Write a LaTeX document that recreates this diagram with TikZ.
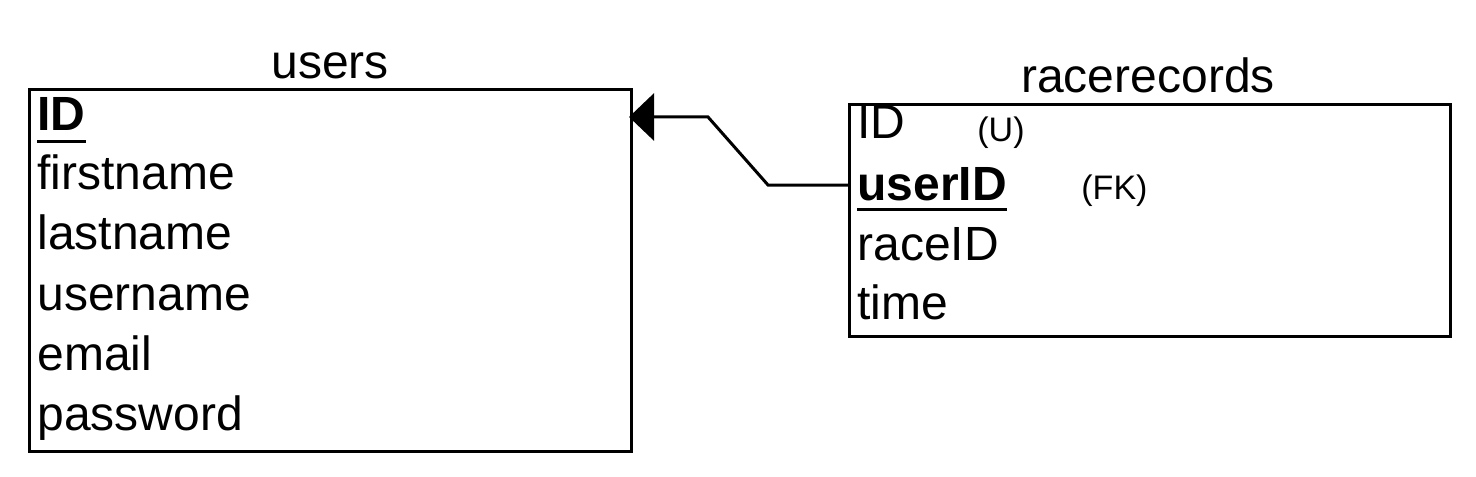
\documentclass[tikz,border=0pt]{standalone}
\usepackage{fontspec}
\setmainfont{Liberation Sans}
\usetikzlibrary{arrows.meta}
\begin{document}
\begin{tikzpicture}[x=0.5pt,y=-0.5pt,
  tbl/.style={draw,line width=1.5pt},
  fld/.style={anchor=base west,inner sep=0pt,font=\fontsize{24}{28}\selectfont},
  ttl/.style={anchor=base,inner sep=0pt,font=\fontsize{24}{28}\selectfont},
  tag/.style={anchor=base west,inner sep=0pt,font=\fontsize{17}{20}\selectfont},
  ul/.style={line width=1.5pt},
  conn/.style={line width=1.5pt,-{Triangle[length=12.5pt,width=23.5pt]}}]
\useasboundingbox (0,0) rectangle (1476,476);
% users
\node[tbl,minimum width=301pt,minimum height=181pt,anchor=north west,inner sep=0pt] (users) at (28,88) {};
\node[ttl] (usersT) at (330,79) {users};
\node[fld,font=\fontsize{24}{28}\selectfont\bfseries] (uid) at (37,131) {ID};
\draw[ul] ([yshift=-5pt]uid.base west) -- ([yshift=-5pt]uid.base east);
\node[fld] (ufn) at (37,189) {firstname};
\node[fld] (uln) at (37,249) {lastname};
\node[fld] (uun) at (37,310) {username};
\node[fld] (uem) at (37,370) {email};
\node[fld] (upw) at (37,430) {password};
% racerecords
\node[tbl,minimum width=300.5pt,minimum height=116pt,anchor=north west,inner sep=0pt] (race) at (848,103) {};
\node[ttl] (raceT) at (1148,92) {racerecords};
\node[fld] (rid) at (857,139) {ID};
\node[tag] (ru) at (977,141) {(U)};
\node[fld,font=\fontsize{24}{28}\selectfont\bfseries] (ruid) at (857,200) {userID};
\draw[ul] ([yshift=-4.5pt]ruid.base west) -- ([yshift=-4.5pt]ruid.base east);
\node[tag] (rfk) at (1081,199) {(FK)};
\node[fld] (rrid) at (857,260) {raceID};
\node[fld] (rtime) at (857,319) {time};
% connector
\coordinate (c1) at (768,185);
\coordinate (c2) at (708,117);
\draw[conn,shorten >=-2pt] (race.west |- c1) -- (c1) -- (c2) -- (users.east |- c2);
\end{tikzpicture}
\end{document}
